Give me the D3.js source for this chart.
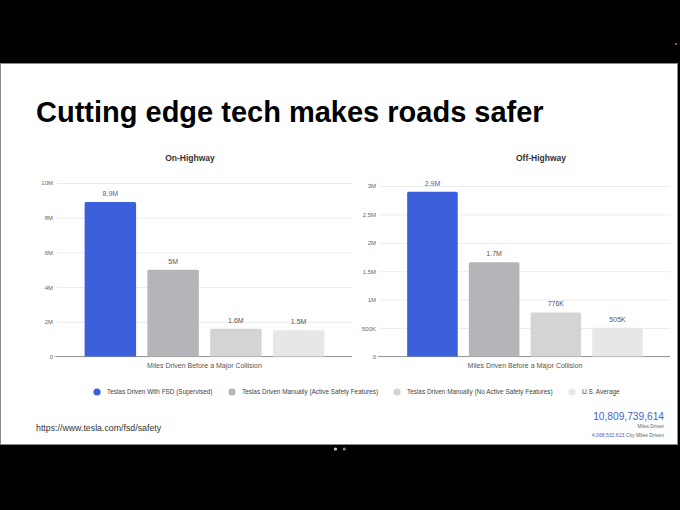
<!DOCTYPE html>
<html>
<head>
<meta charset="utf-8">
<script src="https://cdn.jsdelivr.net/npm/d3@7.9.0/dist/d3.min.js"></script>
<style>
  html, body { margin: 0; padding: 0; background: #000; }
  svg { display: block; font-family: "Liberation Sans", Arial, sans-serif; }
</style>
</head>
<body>
<svg id="chart" width="680" height="510"></svg>
<script>
// data
const categories = [
  "Teslas Driven With FSD (Supervised)",
  "Teslas Driven Manually (Active Safety Features)",
  "Teslas Driven Manually (No Active Safety Features)",
  "U.S. Average"
];
const onHighway = [8.9e6, 5.0e6, 1.6e6, 1.52e6];
const onHighwayLabels = ["8.9M", "5M", "1.6M", "1.5M"];
const offHighway = [2.9e6, 1.66e6, 0.776e6, 0.505e6];
const offHighwayLabels = ["2.9M", "1.7M", "776K", "505K"];
const onTicks = [0, 2e6, 4e6, 6e6, 8e6, 10e6];
const onTickLabels = ["0", "2M", "4M", "6M", "8M", "10M"];
const offTicks = [0, 0.5e6, 1e6, 1.5e6, 2e6, 2.5e6, 3e6];
const offTickLabels = ["0", "500K", "1M", "1.5M", "2M", "2.5M", "3M"];
const colors = ["#3c5fdc", "#b5b4b8", "#d4d4d6", "#e7e7e8"];

const svg = d3.select("#chart");

// slide background
svg.append("rect")
  .attr("x", 0.5).attr("y", 63.5)
  .attr("width", 677).attr("height", 381)
  .attr("fill", "#fff").attr("stroke", "#8a8a8a");
svg.append("circle").attr("cx", 676).attr("cy", 44).attr("r", 1).attr("fill", "#c77a2a");

svg.append("text")
  .attr("x", 36).attr("y", 122)
  .attr("font-size", 29).attr("font-weight", "bold")
  .attr("fill", "#000")
  .text("Cutting edge tech makes roads safer");

function drawChart(opts) {
  const x = d3.scaleBand()
    .domain(categories)
    .range([opts.x0, opts.x1])
    .paddingInner(0.18)
    .paddingOuter(0.44);
  const y = d3.scaleLinear()
    .domain([0, opts.max])
    .range([356.5, opts.top]);

  const g = svg.append("g");

  // gridlines + tick labels
  const axis = d3.axisLeft(y)
    .tickValues(opts.ticks)
    .tickFormat((d, i) => opts.tickLabels[i])
    .tickSize(-(opts.x1 - opts.x0))
    .tickPadding(4);
  const ax = g.append("g")
    .attr("transform", `translate(${opts.x0},0)`)
    .call(axis);
  ax.select(".domain").remove();
  ax.selectAll("line").attr("stroke", "#ebebeb");
  ax.selectAll("text").attr("fill", "#666").attr("font-size", 6)
    .attr("font-family", "Liberation Sans, Arial, sans-serif");

  // baseline
  g.append("line")
    .attr("x1", opts.x0 - 2).attr("x2", opts.x1)
    .attr("y1", y(0)).attr("y2", y(0))
    .attr("stroke", "#9a9a9a");

  g.selectAll(".bar")
    .data(opts.values)
    .join("path")
    .attr("class", "bar")
    .attr("fill", (d, i) => colors[i])
    .attr("d", (d, i) => {
      const bx = x(categories[i]), bw = x.bandwidth();
      const by = y(d), bb = y(0), r = 1.5;
      return `M${bx},${bb}V${by + r}Q${bx},${by} ${bx + r},${by}H${bx + bw - r}Q${bx + bw},${by} ${bx + bw},${by + r}V${bb}Z`;
    });

  g.selectAll(".val")
    .data(opts.values)
    .join("text")
    .attr("class", "val")
    .attr("x", (d, i) => x(categories[i]) + x.bandwidth() / 2)
    .attr("y", d => y(d) - 6)
    .attr("text-anchor", "middle")
    .attr("font-size", 7)
    .attr("fill", (d, i) => i === 0 ? "#4a62c9" : "#555")
    .text((d, i) => opts.labels[i]);

  g.append("text")
    .attr("x", (opts.x0 + opts.x1) / 2).attr("y", 368)
    .attr("text-anchor", "middle")
    .attr("font-size", 7).attr("fill", "#555")
    .text("Miles Driven Before a Major Collision");

  g.append("text")
    .attr("x", opts.titleX).attr("y", 161)
    .attr("text-anchor", "middle")
    .attr("font-size", 8.5).attr("font-weight", "bold").attr("fill", "#333")
    .text(opts.title);
}

drawChart({
  title: "On-Highway", titleX: 190,
  x0: 57, x1: 352, top: 183, max: 10e6,
  ticks: onTicks, tickLabels: onTickLabels,
  values: onHighway, labels: onHighwayLabels
});
drawChart({
  title: "Off-Highway", titleX: 541,
  x0: 380, x1: 670, top: 186, max: 3e6,
  ticks: offTicks, tickLabels: offTickLabels,
  values: offHighway, labels: offHighwayLabels
});

// legend
const legendX = [97, 232, 397, 572];
const legend = svg.append("g");
categories.forEach((c, i) => {
  legend.append("circle")
    .attr("cx", legendX[i]).attr("cy", 392).attr("r", 3.6)
    .attr("fill", colors[i]);
  legend.append("text")
    .attr("x", legendX[i] + 10).attr("y", 394.3)
    .attr("font-size", 6.4).attr("fill", "#444")
    .text(c);
});

// footer
svg.append("text")
  .attr("x", 36).attr("y", 431)
  .attr("font-size", 8.8).attr("fill", "#333")
  .text("https://www.tesla.com/fsd/safety");

svg.append("text")
  .attr("x", 664).attr("y", 420)
  .attr("text-anchor", "end")
  .attr("font-size", 10.2).attr("fill", "#4a5fc8")
  .text("10,809,739,614");
svg.append("text")
  .attr("x", 664).attr("y", 428)
  .attr("text-anchor", "end")
  .attr("font-size", 4.8).attr("fill", "#666")
  .text("Miles Driven");
const city = svg.append("text")
  .attr("x", 664).attr("y", 436.5)
  .attr("text-anchor", "end")
  .attr("font-size", 5.1).attr("fill", "#666");
city.append("tspan").attr("fill", "#4a5fc8").text("4,068,532,623");
city.append("tspan").text(" City Miles Driven");

// slide pager dots
svg.append("circle").attr("cx", 335.5).attr("cy", 449).attr("r", 1.6).attr("fill", "#d0d0d0");
svg.append("circle").attr("cx", 344.3).attr("cy", 449).attr("r", 1.6).attr("fill", "#8a8a8a");
</script>
</body>
</html>
